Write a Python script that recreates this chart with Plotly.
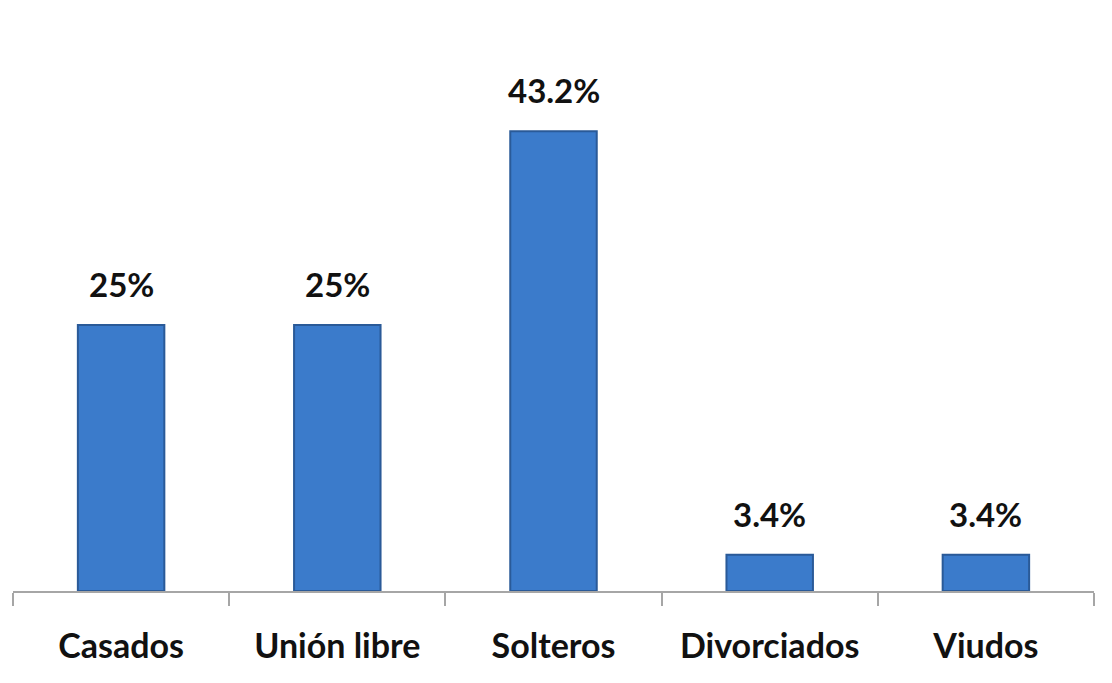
import plotly.graph_objects as go

categories = ["Casados", "Unión libre", "Solteros", "Divorciados", "Viudos"]
values = [25, 25, 43.2, 3.4, 3.4]
labels = ["25%", "25%", "43.2%", "3.4%", "3.4%"]

FONT = "Lato"

fig = go.Figure()
fig.add_trace(go.Bar(
    x=categories, y=values,
    width=0.4,
    marker=dict(color="#3b7bcb", line=dict(color="#2a5a98", width=2)),
    hoverinfo="skip",
))

for cat, val, lab in zip(categories, values, labels):
    fig.add_annotation(
        x=cat, y=val, text=f"<b>{lab}</b>",
        showarrow=False, yanchor="bottom", yshift=19,
        font=dict(family=FONT, size=33, color="#111111"),
    )

fig.update_layout(
    width=1112, height=683,
    margin=dict(l=5, r=26, t=51, b=100),
    paper_bgcolor="white", plot_bgcolor="white",
    showlegend=False,
    bargap=0.6,
    xaxis=dict(
        showline=True, linecolor="#a6a6a6", linewidth=1.5,
        ticks="outside", tickson="boundaries", ticklen=13, tickcolor="#a6a6a6", tickwidth=1.5,
        tickfont=dict(family=FONT, size=34, color="#111111"),
        ticklabelstandoff=24,
        tickvals=categories,
        ticktext=[f"<b>{c}</b>" for c in categories],
    ),
    yaxis=dict(range=[0, 50], visible=False),
)

fig.write_html("out.html")
